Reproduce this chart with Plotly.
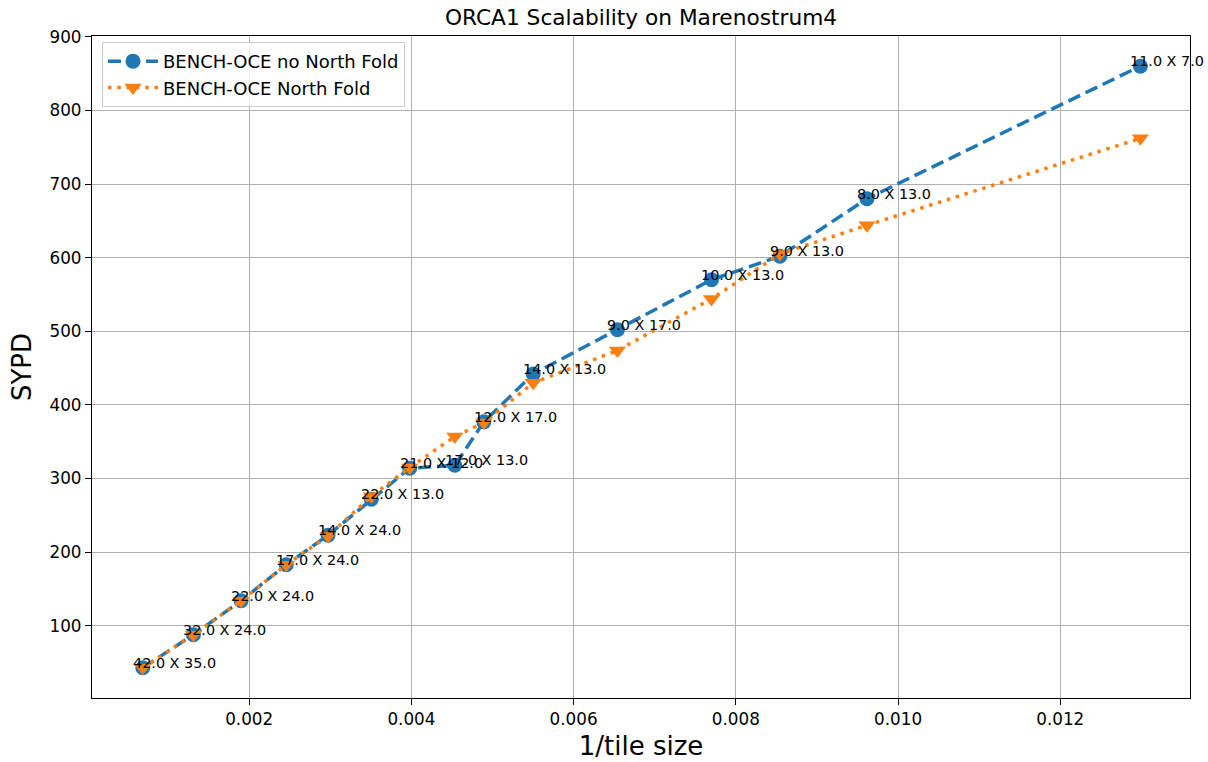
import plotly.graph_objects as go

# ---- data ----
inv_tile = [0.000688, 0.001312, 0.00190, 0.002457, 0.002972, 0.003506, 0.003979,
            0.004535, 0.004893, 0.005502, 0.00654, 0.00770, 0.008543, 0.009617, 0.012988]
sypd_no_fold = [43, 88, 134, 183, 223, 272, 314, 318, 377, 442, 502, 570, 602, 680, 860]
sypd_fold = [43, 88, 134, 183, 222, 276, 315, 357, 376, 430, 474, 544, 605, 644, 762]
decomp_labels = ["42.0 X 35.0", "32.0 X 24.0", "22.0 X 24.0", "17.0 X 24.0", "14.0 X 24.0",
                 "22.0 X 13.0", "21.0 X 12.0", "17.0 X 13.0", "12.0 X 17.0", "14.0 X 13.0",
                 "9.0 X 17.0", "10.0 X 13.0", "9.0 X 13.0", "8.0 X 13.0", "11.0 X 7.0"]
y_ticks = [100, 200, 300, 400, 500, 600, 700, 800, 900]
x_ticks = [0.002, 0.004, 0.006, 0.008, 0.010, 0.012]
x_tick_text = ["0.002", "0.004", "0.006", "0.008", "0.010", "0.012"]

FONT = "DejaVu Sans"
BLUE = "#1f77b4"
ORANGE = "#ff7f0e"

fig = go.Figure()
fig.add_trace(go.Scatter(
    x=inv_tile, y=sypd_no_fold, mode="lines+markers",
    name="BENCH-OCE no North Fold",
    line=dict(color=BLUE, width=3.5, dash="13px,6px"),
    marker=dict(symbol="circle", size=15, color=BLUE),
))
fig.add_trace(go.Scatter(
    x=inv_tile, y=sypd_fold, mode="lines+markers",
    name="BENCH-OCE North Fold",
    line=dict(color=ORANGE, width=3.5, dash="3.5px,5.8px"),
    marker=dict(symbol="triangle-down", size=15, color=ORANGE),
))

for xv, yv, t in zip(inv_tile, sypd_no_fold, decomp_labels):
    fig.add_annotation(
        x=xv, y=yv, xref="x", yref="y", text=t, showarrow=False,
        xanchor="left", yanchor="middle", xshift=-12, yshift=5,
        font=dict(family=FONT, size=14.4, color="#000000"),
    )

axis_common = dict(
    showgrid=True, gridcolor="#b0b0b0", gridwidth=1,
    showline=True, linecolor="#000000", linewidth=1.2, mirror=True,
    ticks="outside", ticklen=6, tickwidth=1.2, tickcolor="#000000",
    tickfont=dict(family=FONT, size=16.8, color="#000000"),
    zeroline=False, automargin=False,
)

fig.update_layout(
    width=1208, height=762,
    margin=dict(l=92, r=18, t=36, b=64, autoexpand=False),
    paper_bgcolor="white", plot_bgcolor="white",
    title=dict(text="ORCA1 Scalability on Marenostrum4", x=0.5, xref="paper",
               y=1 - 17 / 762, yref="container", xanchor="center", yanchor="middle",
               font=dict(family=FONT, size=21.7, color="#000000")),
    xaxis=dict(range=[0.0000617, 0.0136], tickvals=x_ticks, ticktext=x_tick_text,
               title=dict(text="1/tile size", font=dict(family=FONT, size=26, color="#000000"),
                          standoff=8),
               **axis_common),
    yaxis=dict(range=[2, 901], tickvals=y_ticks,
               title=dict(text="SYPD", font=dict(family=FONT, size=26, color="#000000"),
                          standoff=10),
               **axis_common),
    legend=dict(x=0.0091, y=0.991, xanchor="left", yanchor="top",
                bgcolor="rgba(255,255,255,0.8)", bordercolor="#cccccc", borderwidth=1,
                font=dict(family=FONT, size=18, color="#000000"),
                itemwidth=50, tracegroupgap=0),
    showlegend=True,
)

fig.write_html("out.html")
